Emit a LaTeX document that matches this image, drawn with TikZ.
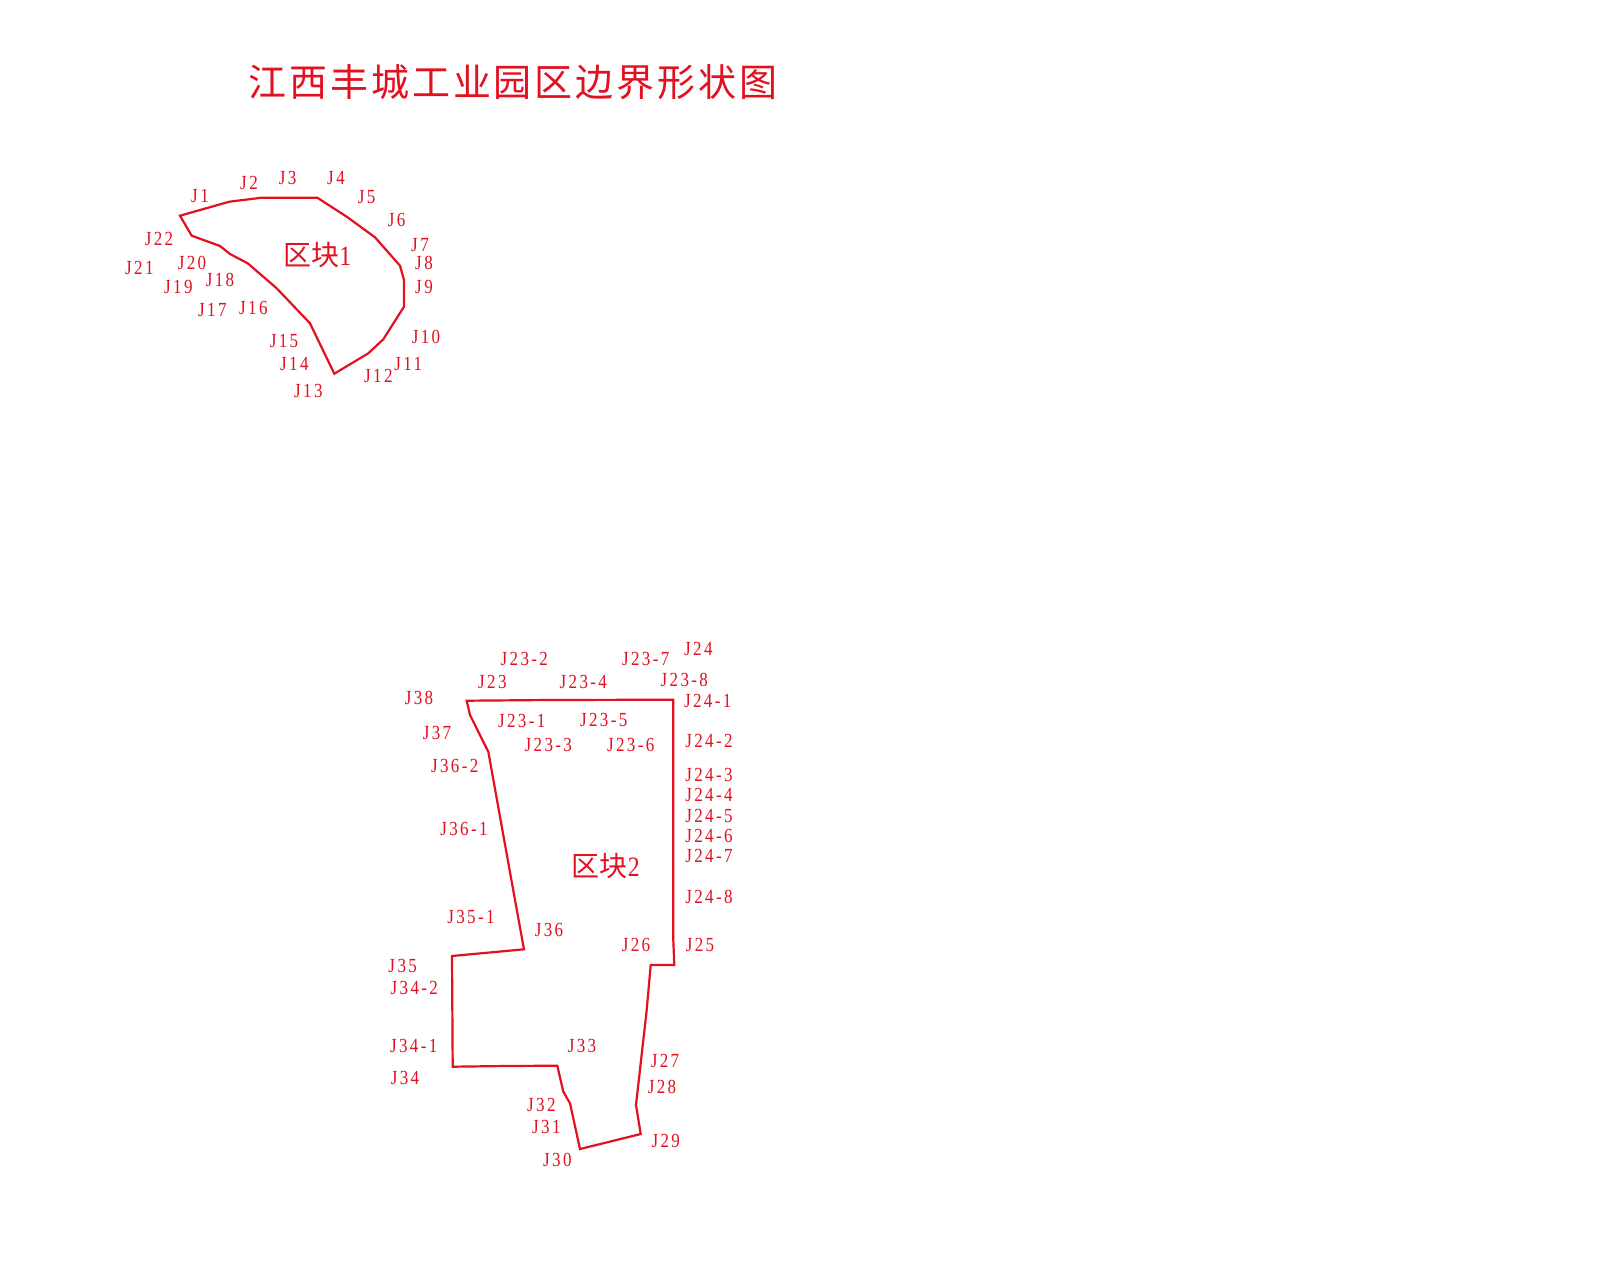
\documentclass[tikz,border=0pt]{standalone}
\usepackage{fontspec}
\setmainfont[FakeStretch=0.85,LetterSpace=12]{Liberation Serif}
\newfontfamily\cjk{Noto Sans CJK SC}
\newfontfamily\cjktitle[LetterSpace=7.5]{Noto Sans CJK SC}
\definecolor{bred}{RGB}{226,16,32}
\begin{document}
\begin{tikzpicture}[x=1pt,y=-1pt,
				every node/.style={text=bred,inner sep=0pt},
				jlabel/.style={font=\fontsize{20}{20}\selectfont},
				blocklabel/.style={font=\fontsize{28}{28}\selectfont},
				titlelabel/.style={font=\cjktitle\fontsize{38}{38}\selectfont},
				boundary/.style={draw=bred,line width=2.2pt,line join=miter}]
\useasboundingbox[fill=white] (0,0) rectangle (1600,1280);
\node[titlelabel] (title) at (513,82) {江西丰城工业园区边界形状图};
% block 1
\draw[boundary] (180,215.7) -- (191.7,235.7) -- (220,246) -- (230,254) -- (247.7,263.3)
	-- (276.7,288.3) -- (310,323.3) -- (334.3,373.7) -- (368.3,353.3) -- (383.3,339.3)
	-- (404,306.7) -- (404,280) -- (400,265.7) -- (375,237.3) -- (346.7,216.7)
	-- (317.3,197.7) -- (261.7,197.7) -- (229.3,201.7) -- cycle;
\node[blocklabel] (block1) at (317.3,255) {{\cjk 区块}1};
\foreach \lab/\x/\y in {J1/200/196,J2/249/182.7,J3/287.7/178.3,J4/336/177.7,
	J5/366.7/196.7,J6/396.7/220,J7/420/245,J8/424/263,J9/424/286.7,J10/426/336.7,
	J11/408.3/364,J12/378.3/376,J13/308.3/390.7,J14/294.3/364,J15/284/340.7,
	J16/253.3/307.7,J17/212.3/310,J18/220/280,J19/178.3/286.7,J20/192/263.3,
	J21/139.3/268.3,J22/159/239}
	\node[jlabel] (\lab) at (\x,\y) {\lab};
% block 2
\draw[boundary] (466.7,700.7) -- (548,700) -- (673.3,699.7) -- (673.3,940) -- (674.3,965)
	-- (650.7,965) -- (646.7,1010) -- (636,1105) -- (640.7,1134) -- (580,1149)
	-- (570,1103.3) -- (563.3,1091.7) -- (557.3,1065.7) -- (505,1066) -- (452.7,1066.7)
	-- (452,956) -- (524,949.3) -- (515,900) -- (488.3,751.7) -- (470,715) -- cycle;
\node[blocklabel] (block2) at (605.7,866) {{\cjk 区块}2};
\foreach \lab/\x/\y in {J23/492.3/681.7,J23-1/521.7/721,J23-2/524.3/659.3,J23-3/548.3/745.3,
	J23-4/583.3/681.7,J23-5/603.7/720,J23-6/630.7/745,J23-7/645.7/659.3,J23-8/684.3/680,
	J24/698.3/649.3,J24-1/707.7/700.7,J24-2/709/741,J24-3/709/775.3,J24-4/709/795,
	J24-5/709/816,J24-6/709/836,J24-7/709/856,J24-8/709/897.3,J25/700/945,J26/636/945,
	J27/665/1061.3,J28/662/1087.3,J29/665.7/1140.7,J30/557.3/1160,J31/546.3/1127,
	J32/541.3/1105,J33/582/1046,J34/405/1078.3,J34-1/413.7/1046,J34-2/414.3/988.3,
	J35/402.7/966,J35-1/471/917.3,J36/549/930,J36-1/464/829,J36-2/454.7/766,
	J37/437/732.7,J38/419/698.3}
	\node[jlabel] (\lab) at (\x,\y) {\lab};
\end{tikzpicture}
\end{document}
